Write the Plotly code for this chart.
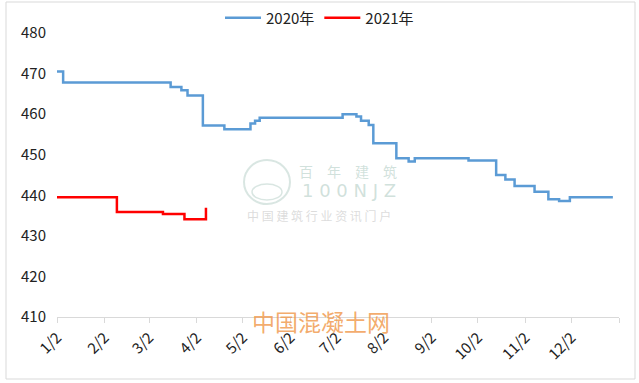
import plotly.graph_objects as go

# ---- data ----
days_2020 = ["01-02", "01-06", "03-16", "03-23", "03-27", "04-06", "04-20", "05-07",
             "05-10", "05-13", "07-06", "07-15", "07-18", "07-23", "07-26", "08-10",
             "08-18", "08-22", "09-26", "10-14", "10-20", "10-26", "11-08", "11-17",
             "11-24", "12-01", "12-29"]
vals_2020 = [470.5, 467.8, 466.7, 465.9, 464.6, 457.2, 456.3, 457.7,
             458.4, 459.1, 460.0, 459.4, 458.4, 457.3, 452.8, 449.1,
             448.3, 449.1, 448.6, 445.0, 443.9, 442.3, 440.9, 439.0,
             438.6, 439.5, 439.5]

days_2021 = ["01-02", "02-10", "03-11", "03-25", "04-08"]
vals_2021 = [439.5, 435.9, 435.4, 434.1, 436.9]

series_names = ["2020年", "2021年"]
tick_days = ["01-02", "02-02", "03-02", "04-02", "05-02", "06-02", "07-02",
             "08-02", "09-02", "10-02", "11-02", "12-02"]
tick_labels = ["1/2", "2/2", "3/2", "4/2", "5/2", "6/2", "7/2",
               "8/2", "9/2", "10/2", "11/2", "12/2"]
y_ticks = [410, 420, 430, 440, 450, 460, 470, 480]

# both years are drawn on a common Jan-2 .. Jan-2 timeline
def on_axis(md):
    return "2020-" + md

FONT = "Noto Sans CJK SC, Noto Sans, sans-serif"

fig = go.Figure()
fig.add_trace(go.Scatter(
    x=[on_axis(d) for d in days_2020], y=vals_2020, name=series_names[0],
    mode="lines", line=dict(color="#5B9BD5", width=2.5, shape="hv")))
fig.add_trace(go.Scatter(
    x=[on_axis(d) for d in days_2021], y=vals_2021, name=series_names[1],
    mode="lines", line=dict(color="#FF0000", width=2.5, shape="hv")))

tickvals = [on_axis(d) for d in tick_days] + ["2021-01-02"]
ticktext = tick_labels + [""]

L, R, T, B = 57, 20, 33, 66
W, H = 639, 383
pw, ph = W - L - R, H - T - B

def px_x(px):
    return (px - L) / pw

def px_y(py):
    return (H - B - py) / ph

fig.update_layout(
    width=W, height=H,
    margin=dict(l=L, r=R, t=T, b=B, autoexpand=False),
    paper_bgcolor="white", plot_bgcolor="white",
    font=dict(family=FONT, size=15, color="#222222"),
    showlegend=True,
    legend=dict(orientation="h", xref="container", yref="container",
                x=0.5, xanchor="center", y=1 - 18 / H, yanchor="middle",
                font=dict(size=15, color="#222222"), bgcolor="rgba(0,0,0,0)",
                itemwidth=36, tracegroupgap=0),
    xaxis=dict(type="date", range=["2020-01-02", "2021-01-02"], automargin=False,
               tickmode="array", tickvals=tickvals, ticktext=ticktext,
               tickangle=-45, showgrid=False, zeroline=False,
               showline=True, linecolor="#D9D9D9", linewidth=1,
               ticks="outside", ticklen=5, tickcolor="#D9D9D9",
               tickfont=dict(size=15, color="#222222")),
    yaxis=dict(range=[410, 480], tickmode="array", tickvals=y_ticks, automargin=False,
               showgrid=False, zeroline=False, showline=False, ticks="",
               ticklabelstandoff=10,
               tickfont=dict(size=15, color="#222222")),
)

# chart border
fig.add_shape(type="rect", xref="paper", yref="paper",
              x0=px_x(6), x1=px_x(635), y0=px_y(379), y1=px_y(2),
              line=dict(color="#D9D9D9", width=1), fillcolor="rgba(0,0,0,0)",
              layer="below")

# watermarks
wm = "rgba(170,200,190,0.55)"
fig.add_annotation(xref="paper", yref="paper", x=px_x(348), y=px_y(171),
                   text="百　年　建　筑", showarrow=False,
                   font=dict(family=FONT, size=14, color=wm))
fig.add_annotation(xref="paper", yref="paper", x=px_x(349), y=px_y(191),
                   text="1 0 0 N J Z", showarrow=False,
                   font=dict(family="DejaVu Sans, sans-serif", size=18, color=wm))
fig.add_annotation(xref="paper", yref="paper", x=px_x(319), y=px_y(216),
                   text="中 国 建 筑 行 业 资 讯 门 户", showarrow=False,
                   font=dict(family=FONT, size=12, color="rgba(205,205,205,0.7)"))
fig.add_shape(type="circle", xref="paper", yref="paper",
              x0=px_x(244), x1=px_x(290), y0=px_y(204), y1=px_y(160),
              line=dict(color="rgba(170,200,190,0.45)", width=2))
fig.add_shape(type="circle", xref="paper", yref="paper",
              x0=px_x(252), x1=px_x(282), y0=px_y(200), y1=px_y(184),
              line=dict(color="rgba(170,200,190,0.45)", width=1.5))
fig.add_annotation(xref="paper", yref="paper", x=px_x(321), y=px_y(340),
                   text="中国混凝土网", showarrow=False,
                   font=dict(family=FONT, size=23, color="rgba(240,150,70,0.8)"))

fig.write_html("out.html", post_script="document.body.style.margin='0';",
               config={"displayModeBar": False})
